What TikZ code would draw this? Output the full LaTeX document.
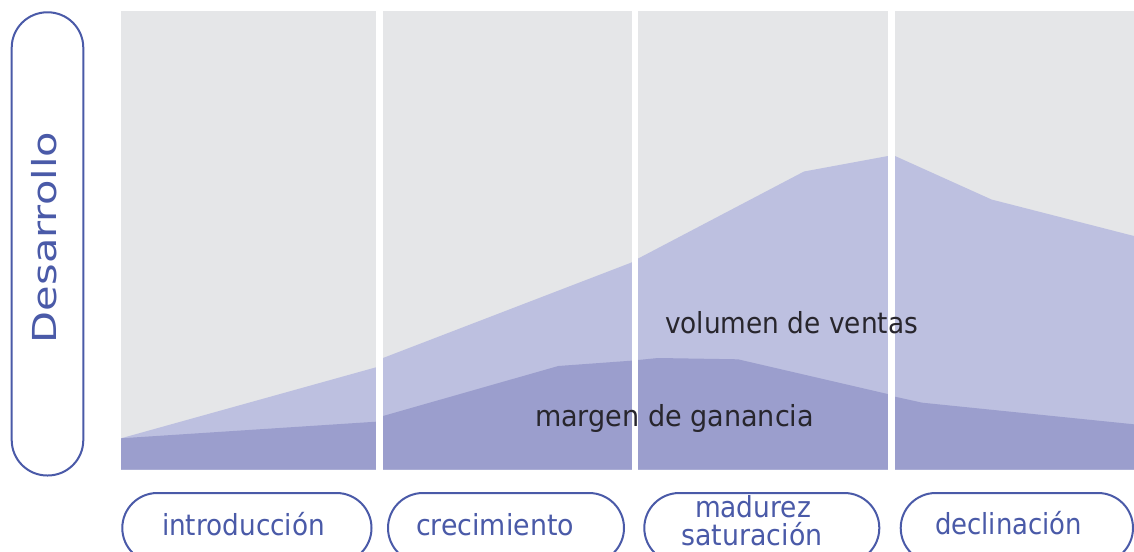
\documentclass[tikz,border=0pt]{standalone}
\usepackage{fontspec}
\setmainfont{DejaVu Sans}
\usepackage{graphicx}
\definecolor{panelgray}{RGB}{229,230,232}
\definecolor{lightvol}{RGB}{189,192,224}
\definecolor{darkmar}{RGB}{155,158,205}
\definecolor{pillblue}{RGB}{74,90,168}
\definecolor{textdark}{RGB}{40,38,45}
\newcommand{\fitw}[2]{\resizebox{#1}{\height}{#2}}
\tikzset{
  pillshape/.style={draw=pillblue, line width=2pt, rounded corners=35pt},
  sidepill/.style={draw=pillblue, line width=2pt, rounded corners=35.5pt},
  phaselbl/.style={inner sep=0pt, outer sep=0pt, text=pillblue, font=\fontsize{29}{34}\selectfont},
  curvelbl/.style={inner sep=0pt, outer sep=0pt, text=textdark, font=\fontsize{29}{34}\selectfont},
  sidelbl/.style={inner sep=0pt, outer sep=0pt, text=pillblue, font=\fontsize{33}{38}\selectfont},
  gapbar/.style={fill=white, draw=none},
}
\begin{document}
\begin{tikzpicture}[x=1pt,y=-1pt]
\clip (0,0) rectangle (1134,551);
\fill[white] (0,0) rectangle (1134,551);
% panels background
\fill[panelgray] (121,11) rectangle (1134,469.5);
% volumen de ventas area
\fill[lightvol] (121,469.5) -- (121,438.3) -- (376,367.3) -- (383,358) -- (631,262.7) -- (638,258.6)
  -- (804,171.5) -- (888,156) -- (895,156) -- (991.5,199.5) -- (1134,236) -- (1134,469.5) -- cycle;
% margen de ganancia area
\fill[darkmar] (121,469.5) -- (121,438.3) -- (376,421.7) -- (383,416) -- (558.3,366) -- (631,360.7)
  -- (638,360) -- (658,358) -- (738,359.3) -- (887.7,394) -- (895,396.7) -- (922.3,402.7)
  -- (1134,424.3) -- (1134,469.5) -- cycle;
% white gaps between phases
\fill[gapbar] (376,0) rectangle (383,480);
\fill[gapbar] (631.5,0) rectangle (638,480);
\fill[gapbar] (888,0) rectangle (895,480);
% curve labels
\node[curvelbl, anchor=base west] (vol) at (665,333) {\fitw{253pt}{volumen de ventas}};
\node[curvelbl, anchor=base west] (mar) at (535,426.7) {\fitw{279pt}{margen de ganancia}};
% side pill
\draw[sidepill] (11.7,12.3) rectangle (83.3,475.5);
\node[sidelbl, rotate=90, anchor=base] (des) at (56.7,237.5) {\fitw{211pt}{Desarrollo}};
% phase pills
\draw[pillshape] (122.3,493) rectangle (371.5,563);
\draw[pillshape] (388,493) rectangle (624,563);
\draw[pillshape] (644.3,493) rectangle (879.3,563);
\draw[pillshape] (900.7,493) rectangle (1133,563);
\node[phaselbl, anchor=base] (intro) at (243.5,535) {\fitw{163pt}{introducción}};
\node[phaselbl, anchor=base] (crec) at (495,535) {\fitw{158pt}{crecimiento}};
\node[phaselbl, anchor=base] (mad) at (753,517) {\fitw{116pt}{madurez}};
\node[phaselbl, anchor=base] (sat) at (752,545.5) {\fitw{141pt}{saturación}};
\node[phaselbl, anchor=base] (decl) at (1008.5,534) {\fitw{147pt}{declinación}};
\end{tikzpicture}
\end{document}
